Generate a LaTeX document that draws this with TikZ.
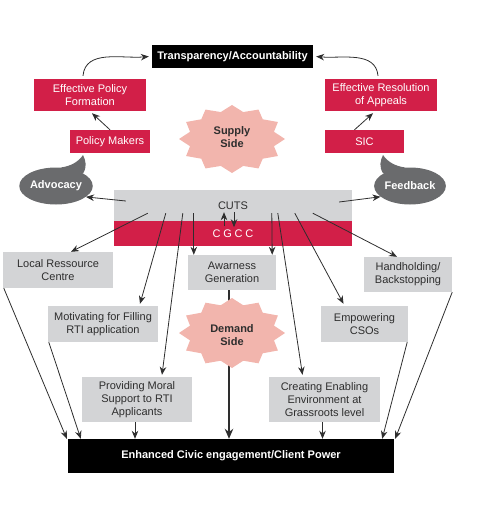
\documentclass[tikz,border=0pt]{standalone}
\usepackage{fontspec}
\setmainfont{Liberation Sans}
\usetikzlibrary{shapes,
                arrows.meta,
                positioning}
\definecolor{cutsred}{HTML}{D21F48}
\definecolor{boxgrey}{HTML}{D3D4D6}
\definecolor{burstpink}{HTML}{F2B5AD}
\definecolor{bubblegrey}{HTML}{6A6B6D}
\definecolor{inkgrey}{HTML}{2E2E2E}
\tikzset{redbox/.style =
   {rectangle,
    fill=cutsred,
    text=white,
    align=center,
    inner sep=0pt,
    font=\fontsize{11}{13.3}\selectfont}}
\tikzset{greybox/.style =
   {rectangle,
    fill=boxgrey,
    text=inkgrey,
    align=center,
    inner sep=0pt,
    font=\fontsize{11}{13.3}\selectfont}}
\tikzset{blackbox/.style =
   {rectangle,
    fill=black,
    text=white,
    align=center,
    inner sep=0pt,
    font=\fontsize{11}{13.3}\selectfont\bfseries}}
\tikzset{bubble/.style =
   {ellipse,
    fill=bubblegrey,
    text=white,
    inner sep=0pt,
    minimum width=70pt,
    minimum height=37pt,
    font=\fontsize{11}{13.3}\selectfont\bfseries}}
\tikzset{burst-text/.style =
   {align=center,
    text=inkgrey,
    font=\fontsize{11}{13.3}\selectfont\bfseries}}
\tikzset{arrow/.style = {draw=inkgrey, line width=0.8pt, -{Stealth[length=8pt, width=6.5pt]}}}
\tikzset{heavy-arrow/.style = {draw=inkgrey, line width=1.6pt, -{Stealth[length=10pt, width=8.5pt]}}}
% twelve-pointed burst: centre, x radius, y radius
\newcommand{\burst}[3]{%
  \fill[burstpink, shift={#1}] (#2,0)
    \foreach \a [evaluate=\a as \r using {1-0.18*mod(\a/15,2)}] in {15,30,...,345}
      { -- ({#2*\r*cos(\a)},{#3*\r*sin(\a)}) } -- cycle;}

\begin{document}
\begin{tikzpicture}[x=1pt, y=-1pt]

        \useasboundingbox (0,0) rectangle (480,508);

        % supply side
        \node [blackbox, minimum width=161pt, minimum height=23pt]
              (trans) at (232.5,56.5) {Transparency/Accountability};

        \node [redbox, minimum width=112pt, minimum height=32pt]
              (epf) at (90,95) {Effective Policy\\Formation};

        \node [redbox, minimum width=112pt, minimum height=32pt]
              (era) at (381,95) {Effective Resolution\\of Appeals};

        \node [redbox, minimum width=80pt, minimum height=23pt]
              (pm) at (110,141.5) {Policy Makers};

        \node [redbox, minimum width=79pt, minimum height=23pt]
              (sic) at (364.5,141.5) {SIC};

        \node [bubble] (adv) at (56,186) {Advocacy};
        \coordinate (advtip) at (83,155);
        \fill [bubblegrey] (adv.75) .. controls (72,166) and (79,161) .. (advtip)
              .. controls (86,161) and (87,167) .. (adv.25) -- cycle;

        \node [bubble] (fb) at (410,186) {Feedback};
        \coordinate (fbtip) at (383,155);
        \fill [bubblegrey] (fb.105) .. controls (394,166) and (387,161) .. (fbtip)
              .. controls (380,161) and (379,167) .. (fb.155) -- cycle;

        % CUTS / CGCC
        \node [greybox, minimum width=238pt, minimum height=31pt]
              (cuts) at (233,205.5) {CUTS};

        \node [redbox, minimum width=238pt, minimum height=25pt,
               below=0pt of cuts]
              (cgcc) {\addfontfeature{LetterSpace=25}CGCC};

        % demand side
        \node [greybox, minimum width=110pt, minimum height=36pt]
              (lrc) at (58,270) {Local Ressource\\Centre};

        \node [greybox, minimum width=88pt, minimum height=35pt]
              (awg) at (232,272.5) {Awarness\\Generation};

        \node [greybox, minimum width=88pt, minimum height=35pt]
              (hb) at (408,274.5) {Handholding/\\Backstopping};

        \node [greybox, minimum width=110pt, minimum height=36pt]
              (mot) at (103,324) {Motivating for Filling\\RTI application};

        \node [greybox, minimum width=87pt, minimum height=36pt]
              (emp) at (364.5,324) {Empowering\\CSOs};

        \node [greybox, minimum width=110pt, minimum height=45pt]
              (pms) at (137,399.5) {Providing Moral\\Support to RTI\\Applicants};

        \node [greybox, minimum width=111pt, minimum height=45pt]
              (cee) at (324.5,399.5) {Creating Enabling\\Environment at\\Grassroots level};

        \node [blackbox, minimum width=326pt, minimum height=34pt]
              (ece) at (231,456) {Enhanced Civic engagement/Client Power};

        % upper arrows
        \draw [arrow] (pm.north) -- ([xshift=2pt,yshift=-2pt]epf.south);
        \draw [arrow] ([xshift=-10pt]sic.north) -- ([xshift=-8pt,yshift=-2pt]era.south);
        \draw [arrow] ([xshift=-7pt,yshift=3pt]epf.north) to [out=85, in=185] ([xshift=-3pt]trans.west);
        \draw [arrow] ([xshift=-3pt,yshift=3pt]era.north) to [out=95, in=-5] ([xshift=3pt]trans.east);
        \draw [arrow] ([xshift=12pt,yshift=4.5pt]cuts.west) -- (adv.-20);
        \draw [arrow] ([xshift=-13pt,yshift=3.5pt]cuts.east) -- (fb.200);
        \draw [arrow] ([xshift=-9pt,yshift=-5pt]cuts.south) -- ([xshift=-9pt,yshift=9pt]cuts.south);
        \draw [arrow] ([xshift=1pt,yshift=9pt]cuts.south) -- ([xshift=1pt,yshift=-6pt]cuts.south);

        % CUTS to the activities
        \draw [arrow] ([xshift=34pt,yshift=8pt]cuts.south west) -- ([xshift=13pt]lrc.north);
        \draw [arrow] ([xshift=52pt,yshift=8pt]cuts.south west) -- ([xshift=37pt,yshift=2pt]mot.north);
        \draw [arrow] ([xshift=69pt,yshift=8pt]cuts.south west) -- ([xshift=25pt,yshift=2pt]pms.north);
        \draw [arrow] ([xshift=80pt,yshift=8pt]cuts.south west) -- ([xshift=6pt]awg.north west);
        \draw [arrow] ([xshift=158pt,yshift=8pt]cuts.south west) -- ([xshift=-4pt]awg.north east);
        \draw [arrow] ([xshift=164pt,yshift=8pt]cuts.south west) -- ([xshift=-22pt,yshift=2pt]cee.north);
        \draw [arrow] ([xshift=181pt,yshift=8pt]cuts.south west) -- ([xshift=-21pt,yshift=2pt]emp.north);
        \draw [arrow] ([xshift=199pt,yshift=8pt]cuts.south west) -- ([xshift=-11pt]hb.north);

        % activities to the outcome
        \draw [arrow] ([xshift=1pt]lrc.south west) -- ([xshift=-1pt]ece.north west);
        \draw [arrow] ([xshift=1pt]mot.south west) -- ([xshift=13pt]ece.north west);
        \draw [arrow] ([xshift=-2pt]pms.south) -- ([xshift=-2pt]pms.south |- ece.north);
        \draw [arrow] ([xshift=-2pt]cee.south) -- ([xshift=-2pt]cee.south |- ece.north);
        \draw [arrow] ([xshift=-1pt]emp.south east) -- ([xshift=-12pt]ece.north east);
        \draw [arrow] (hb.south east) -- ([xshift=1pt]ece.north east);
        \draw [heavy-arrow] ([xshift=-3pt]awg.south) -- ([xshift=-3pt]awg.south |- ece.north);

        % bursts
        \burst{(232,139)}{53}{34}
        \node [burst-text] (supply) at (232,137) {Supply\\Side};

        \burst{(232,333)}{53}{35}
        \node [burst-text] (demand) at (232,335) {Demand\\Side};

    \end{tikzpicture}
\end{document}
